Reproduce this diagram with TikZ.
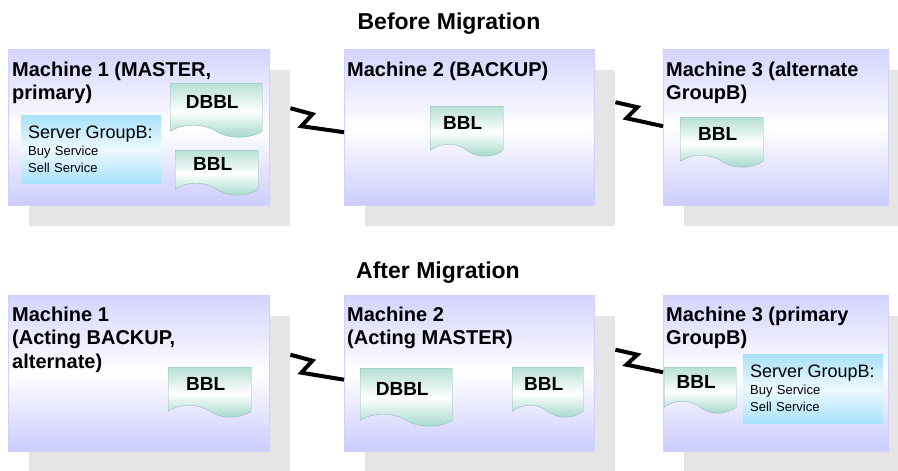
\documentclass[tikz,border=0pt]{standalone}
\usepackage{fontspec}
\setmainfont{Liberation Sans}
\usetikzlibrary{calc,shapes.symbols,shadows}

\definecolor{lavender}{RGB}{204,204,255}
\definecolor{docteal}{RGB}{158,214,200}
\definecolor{grpblue}{RGB}{168,226,250}
\definecolor{shadowgray}{RGB}{229,229,229}

\tikzset{
  heading/.style={font=\bfseries\fontsize{23}{23}\selectfont, anchor=base, inner sep=0pt},
  machine/.style={draw=lavender!90, top color=lavender!85, bottom color=lavender,
    middle color=white, minimum width=#1, minimum height=156pt,
    anchor=north west, inner sep=0pt,
    drop shadow={shadow xshift=21pt, shadow yshift=-21pt, fill=shadowgray, opacity=1}},
  mlabel/.style={font=\bfseries\fontsize{20}{23.5}\selectfont, align=left,
    anchor=north west, inner sep=0pt},
  doc/.style={tape, tape bend top=none, tape bend bottom=out and in,
    tape bend height=12pt, draw=docteal!70!gray, top color=docteal!75,
    bottom color=docteal, middle color=white, anchor=north west, inner sep=0pt,
    font=\bfseries\fontsize{19}{19}\selectfont, text height=17pt, text depth=9pt,
    execute at end node=\hspace*{8pt}},
  grp/.style={rectangle, top color=grpblue, bottom color=grpblue,
    middle color=grpblue!20, minimum width=140pt, minimum height=68pt,
    text width=126pt, align=left, anchor=north west, inner xsep=7pt,
    font=\fontsize{13}{17}\selectfont},
  bolt/.style={draw=black, line width=4pt, miter limit=4}
}

\begin{document}
\begin{tikzpicture}[x=1pt,y=-1pt]
    \useasboundingbox (0,0) rectangle (898,471);

    % headings
    \node (before) [heading] at (449,29.5) {Before Migration};
    \node (after) [heading] at (438,278.5) {After Migration};

    % before migration
    \node (m1b) [machine=261pt] at (8,49) {};
    \node (m2b) [machine=250pt] at (344,49) {};
    \node (m3b) [machine=225pt] at (663,49) {};
    \node (m1b-lbl) [mlabel] at (12,61.5) {Machine 1 (MASTER,\\primary)};
    \node (m2b-lbl) [mlabel] at (347,61.5) {Machine 2 (BACKUP)};
    \node (m3b-lbl) [mlabel] at (666,61.5) {Machine 3 (alternate\\GroupB)};
    \node (m1b-grp) [grp] at (21,115) {{\fontsize{18}{18}\selectfont Server GroupB:}\\Buy Service\\Sell Service};
    \node (m1b-dbbl) [doc, minimum width=92pt, minimum height=54pt] at (170,83) {DBBL};
    \node (m1b-bbl) [doc, minimum width=83pt, minimum height=45pt] at (175,150) {BBL};
    \node (m2b-bbl) [doc, minimum width=73pt, minimum height=50pt] at (430,106) {BBL};
    \node (m3b-bbl) [doc, minimum width=83pt, minimum height=50pt] at (680,117) {BBL};
    \draw [bolt] ($(m1b.east)+(21,-19)$) -- ++(22,6) -- ++(-11,12) -- ($(m2b.west)+(0,5)$);
    \draw [bolt] ($(m2b.east)+(21,-25)$) -- ++(22,5) -- ++(-11,11) -- ($(m3b.west)+(0,-1)$);

    % after migration
    \node (m1a) [machine=261pt] at (8,295) {};
    \node (m2a) [machine=250pt] at (344,295) {};
    \node (m3a) [machine=225pt] at (663,295) {};
    \node (m1a-lbl) [mlabel] at (12,306.5) {Machine 1\\(Acting BACKUP,\\alternate)};
    \node (m2a-lbl) [mlabel] at (347,306.5) {Machine 2\\(Acting MASTER)};
    \node (m3a-lbl) [mlabel] at (666,306.5) {Machine 3 (primary\\GroupB)};
    \node (m1a-bbl) [doc, minimum width=83pt, minimum height=50pt] at (168,367) {BBL};
    \node (m2a-dbbl) [doc, minimum width=92pt, minimum height=58pt] at (360,368) {DBBL};
    \node (m2a-bbl) [doc, minimum width=71pt, minimum height=50pt] at (512,367) {BBL};
    \node (m3a-bbl) [doc, minimum width=72pt, minimum height=46pt] at (664,367) {BBL};
    \node (m3a-grp) [grp, minimum height=69pt] at (743,354) {{\fontsize{18}{18}\selectfont Server GroupB:}\\Buy Service\\Sell Service};
    \draw [bolt] ($(m1a.east)+(21,-18.5)$) -- ++(22,6) -- ++(-11,12) -- ($(m2a.west)+(0,6.5)$);
    \draw [bolt] ($(m2a.east)+(21,-23.5)$) -- ++(22,5) -- ++(-11,10) -- ($(m3a.west)+(0,-1)$);
\end{tikzpicture}
\end{document}
